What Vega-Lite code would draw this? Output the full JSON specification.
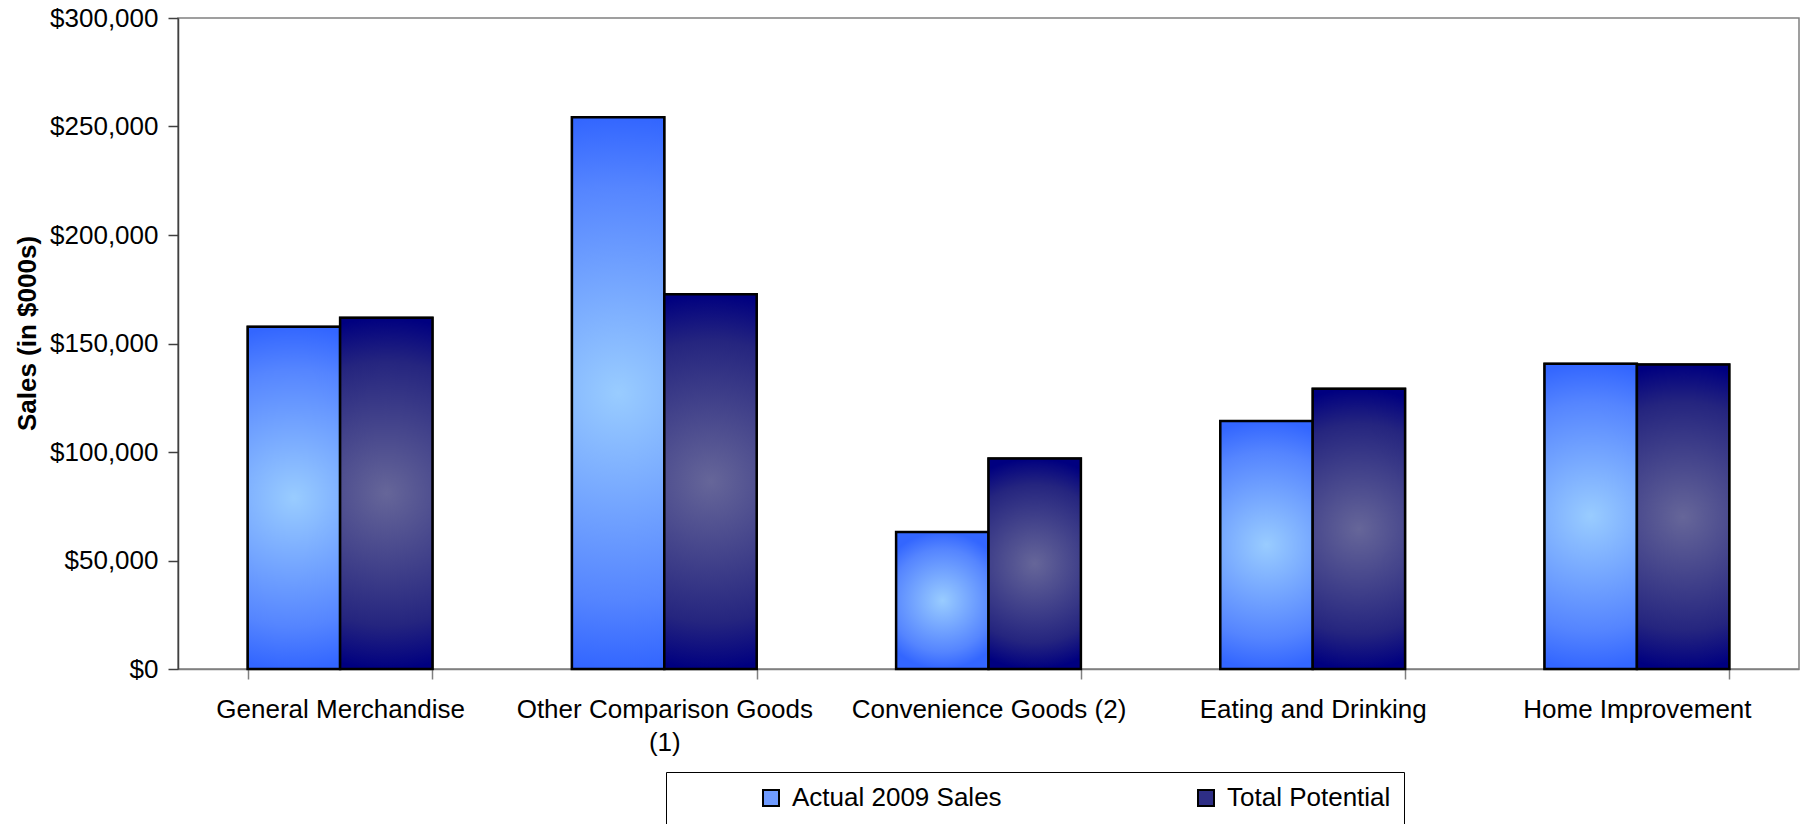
{
  "$schema": "https://vega.github.io/schema/vega-lite/v6.json",
  "width": 1621,
  "height": 651,
  "autosize": "none",
  "padding": {"left": 178, "top": 18, "right": 6, "bottom": 155},
  "background": "#ffffff",
  "config": {
    "font": "Liberation Sans",
    "view": {"stroke": "#808080", "strokeWidth": 1.5}
  },
  "data": {
    "values": [
      {"category": "General Merchandise", "series": "Actual 2009 Sales", "value": 157700},
      {"category": "General Merchandise", "series": "Total Potential", "value": 161900},
      {"category": "Other Comparison Goods (1)", "series": "Actual 2009 Sales", "value": 254300},
      {"category": "Other Comparison Goods (1)", "series": "Total Potential", "value": 172700},
      {"category": "Convenience Goods (2)", "series": "Actual 2009 Sales", "value": 63100},
      {"category": "Convenience Goods (2)", "series": "Total Potential", "value": 97000},
      {"category": "Eating and Drinking", "series": "Actual 2009 Sales", "value": 114300},
      {"category": "Eating and Drinking", "series": "Total Potential", "value": 129100},
      {"category": "Home Improvement", "series": "Actual 2009 Sales", "value": 140700},
      {"category": "Home Improvement", "series": "Total Potential", "value": 140300}
    ]
  },
  "encoding": {
    "x": {
      "field": "category",
      "type": "nominal",
      "sort": null,
      "scale": {"paddingInner": 0.43, "paddingOuter": 0.215},
      "axis": {
        "title": null,
        "labelAngle": 0,
        "labelFontSize": 26,
        "labelColor": "#000000",
        "labelPadding": 17,
        "labelLimit": 0,
        "labelOverlap": false,
        "labelLineHeight": 33,
        "labelExpr": "datum.label == 'Other Comparison Goods (1)' ? ['Other Comparison Goods', '(1)'] : datum.label",
        "tickBand": "extent",
        "tickSize": 10,
        "tickColor": "#808080",
        "tickWidth": 1.5,
        "domainColor": "#808080",
        "domainWidth": 1.5
      }
    },
    "xOffset": {
      "field": "series",
      "type": "nominal",
      "scale": {"paddingInner": 0, "paddingOuter": 0}
    },
    "y": {
      "field": "value",
      "type": "quantitative",
      "scale": {"domain": [0, 300000], "nice": false},
      "axis": {
        "title": "Sales (in $000s)",
        "values": [0, 50000, 100000, 150000, 200000, 250000, 300000],
        "format": "$,.0f",
        "grid": false,
        "labelFontSize": 26,
        "labelColor": "#000000",
        "labelPadding": 10,
        "tickSize": 10,
        "tickColor": "#404040",
        "tickWidth": 1.5,
        "domainColor": "#404040",
        "domainWidth": 1.5,
        "titleFontSize": 26,
        "titleFontWeight": "bold",
        "titleColor": "#000000",
        "titleAngle": -90,
        "titleX": -151,
        "titleY": 315,
        "titleAlign": "center",
        "titleBaseline": "middle"
      }
    }
  },
  "layer": [
    {
      "mark": {"type": "bar", "stroke": "#000000", "strokeWidth": 2},
      "encoding": {
        "fill": {
          "field": "series",
          "type": "nominal",
          "scale": {"range": ["#6F9BFF", "#2E2E85"]},
          "legend": {
            "orient": "none",
            "legendX": 488,
            "legendY": 754,
            "direction": "horizontal",
            "columns": 2,
            "gridAlign": "each",
            "title": " ",
            "titleOrient": "left",
            "titleFontSize": 26,
            "titlePadding": 79,
            "padding": 13,
            "strokeColor": "#000000",
            "symbolType": "square",
            "symbolSize": 256,
            "symbolStrokeColor": "#000000",
            "symbolStrokeWidth": 2,
            "labelFontSize": 26,
            "labelColor": "#000000",
            "labelOffset": 8,
            "labelLimit": 0,
            "columnPadding": 191
          }
        }
      }
    },
    {
      "mark": {"type": "bar", "stroke": "#000000", "strokeWidth": 2.5},
      "encoding": {
        "fill": {
          "condition": {
            "test": "datum.series == 'Actual 2009 Sales'",
            "value": {"gradient": "radial", "x1": 0.5, "y1": 0.5, "r1": 0, "x2": 0.5, "y2": 0.5, "r2": 0.5,
                      "stops": [{"offset": 0, "color": "#99CCFF"}, {"offset": 0.75, "color": "#5585FF"}, {"offset": 1, "color": "#3366FF"}]}
          },
          "value": {"gradient": "radial", "x1": 0.5, "y1": 0.5, "r1": 0, "x2": 0.5, "y2": 0.5, "r2": 0.5,
                    "stops": [{"offset": 0, "color": "#666699"}, {"offset": 0.75, "color": "#25257F"}, {"offset": 1, "color": "#000080"}]}
        }
      }
    }
  ]
}
